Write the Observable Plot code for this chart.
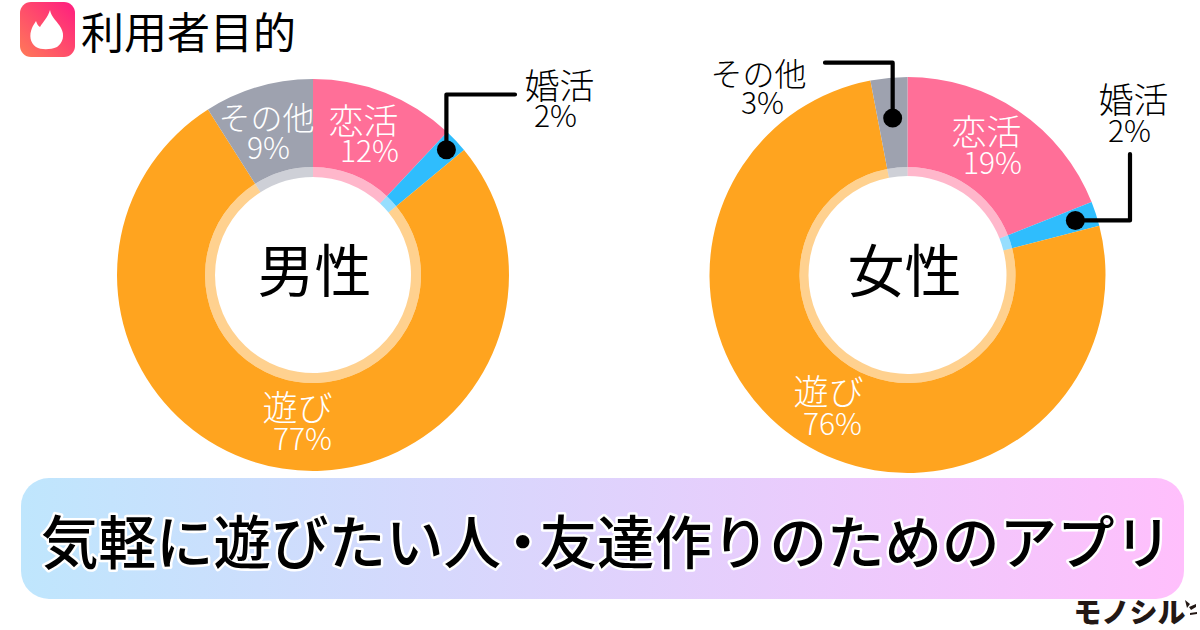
<!DOCTYPE html>
<html lang="ja">
<head>
<meta charset="utf-8">
<style>html,body{margin:0;padding:0;background:#fff}svg{display:block}</style>
<script src="https://cdn.jsdelivr.net/npm/d3@7"></script>
<script src="https://cdn.jsdelivr.net/npm/@observablehq/plot@0.6"></script>
</head>
<body>
<div id="chart"></div>
<script>
const categories = ["恋活", "婚活", "遊び", "その他"];
const colors = ["#ff6f98", "#2fbdfd", "#ffa41f", "#9ea2af"];
const maleValues = [12, 2, 77, 9];
const femaleValues = [19, 2, 76, 3];
const titleText = "利用者目的";
const maleName = "男性";
const femaleName = "女性";
const bannerText = "気軽に遊びたい人・友達作りのためのアプリ";
const brandText = "モノシル";

const FONT = "'Noto Sans CJK JP','Noto Sans',sans-serif";
const rows = (vals) => categories.map((category, i) => ({category, value: vals[i]}));

// Donut drawn from Plot's stacked bar positions; x scale maps percent to radians
function donut({cx, cy, outer, mid, inner, callouts}) {
  return function (index, scales, values) {
    const g = d3.create("svg:g").attr("transform", `translate(${cx},${cy})`);
    const arc = d3.arc();
    for (const i of index) {
      const a = {startAngle: values.x1[i], endAngle: values.x2[i]};
      const fill = values.fill ? values.fill[i] : scales.color(categories[i]);
      g.append("path").attr("d", arc({...a, innerRadius: mid, outerRadius: outer})).attr("fill", fill);
      g.append("path").attr("d", arc({...a, innerRadius: inner, outerRadius: mid})).attr("fill", fill).attr("fill-opacity", 0.5);
    }
    for (const c of callouts) {
      const i = index[categories.indexOf(c.category)];
      const t = (values.x1[i] + values.x2[i]) / 2;
      const px = Math.sin(t) * c.r, py = -Math.cos(t) * c.r;
      const pts = [[px, py], ...c.path.map(([x, y]) => [x === null ? px : x - cx, y === null ? py : y - cy])];
      g.append("path").attr("d", d3.line()(pts)).attr("fill", "none").attr("stroke", "#000")
        .attr("stroke-width", 4.2).attr("stroke-linecap", "round").attr("stroke-linejoin", "round");
      g.append("circle").attr("cx", px).attr("cy", py).attr("r", 9.5).attr("fill", "#000");
    }
    return g.node();
  };
}

const ring = (vals, spec) => Plot.barX(rows(vals), Plot.stackX({
  x: "value", fill: "category", order: null, insetLeft: 0, insetRight: 0, render: donut(spec)
}));

const label = (text, x, y, fontSize, fill = "#000", extra = {}) => Plot.text([text], {
  text: d => d, frameAnchor: "top-left", dx: x, dy: y, textAnchor: "middle", lineAnchor: "middle",
  fontSize, fill, fontFamily: FONT, fontWeight: 300, ...extra
});

function decorations() {
  const g = d3.create("svg:g");
  const defs = g.append("defs");
  const b = defs.append("linearGradient").attr("id", "bannerGrad");
  b.append("stop").attr("offset", "0").attr("stop-color", "#bfe6fd");
  b.append("stop").attr("offset", "1").attr("stop-color", "#ffbffc");
  const l = defs.append("linearGradient").attr("id", "logoGrad").attr("x1", 0).attr("y1", 1).attr("x2", 1).attr("y2", 0);
  l.append("stop").attr("offset", "0").attr("stop-color", "#ff7a58");
  l.append("stop").attr("offset", "1").attr("stop-color", "#ff1c80");
  g.append("rect").attr("x", 21).attr("y", 478).attr("width", 1163).attr("height", 121).attr("rx", 28).attr("fill", "url(#bannerGrad)");
  g.append("rect").attr("x", 20).attr("y", 2).attr("width", 55).attr("height", 55).attr("rx", 11).attr("fill", "url(#logoGrad)");
  g.append("path").attr("fill", "#fff")
    .attr("d", "M50 10 C51 17 58 22 61 28 C65 35 63 43 57 47 C50 50 41 50 36 47 C30 43 29 35 32 28 C33 25 35 23 36 21 C37 24 38 26 40 27 C43 22 48 17 50 10Z");
  g.append("path").attr("fill", "#231815")
    .attr("d", "M1185 600 L1190 604 L1187 608Z M1189 607 L1196 604 L1196 607 L1191 610Z M1190 613 L1197 612 L1197 614 L1190 615Z");
  return g.node();
}

const plot = Plot.plot({
  width: 1200, height: 630,
  marginTop: 0, marginRight: 0, marginBottom: 0, marginLeft: 0,
  x: {domain: [0, 100], range: [0, 2 * Math.PI], axis: null},
  y: {axis: null},
  color: {domain: categories, range: colors},
  style: {background: "#fff", fontFamily: FONT},
  marks: [
    decorations,
    ring(maleValues, {cx: 313, cy: 275, outer: 196, mid: 108, inner: 98,
      callouts: [{category: "婚活", r: 183, path: [[null, 94.5], [515, 94.5]]}]}),
    ring(femaleValues, {cx: 907.5, cy: 275, outer: 198, mid: 108, inner: 99,
      callouts: [
        {category: "婚活", r: 176.5, path: [[1130, null], [1130, 154]]},
        {category: "その他", r: 157.6, path: [[null, 62.7], [825, 62.7]]}
      ]}),
    label(titleText, 188, 35, 43, "#000", {fontWeight: 400}),
    label(maleName, 314, 273, 57, "#000", {fontWeight: 400}),
    label(femaleName, 904, 273, 57, "#000", {fontWeight: 400}),
    // male labels
    label(categories[0], 363, 122, 35, "#fff"),
    label(maleValues[0] + "%", 369, 152, 30, "#fff"),
    label(categories[3], 266, 119, 32, "#fff"),
    label(maleValues[3] + "%", 268, 149, 30, "#fff"),
    label(categories[2], 297, 409, 35, "#fff"),
    label(maleValues[2] + "%", 302, 440, 30, "#fff"),
    label(categories[1], 559, 87, 35),
    label(maleValues[1] + "%", 555, 117, 30),
    // female labels
    label(categories[0], 986, 133, 35, "#fff"),
    label(femaleValues[0] + "%", 992, 164, 30, "#fff"),
    label(categories[2], 828, 393, 35, "#fff"),
    label(femaleValues[2] + "%", 832, 425, 30, "#fff"),
    label(categories[3], 758, 75, 32),
    label(femaleValues[3] + "%", 762, 104, 30),
    label(categories[1], 1133, 101, 35),
    label(femaleValues[1] + "%", 1129, 132, 30),
    // banner and brand
    label(bannerText, 606, 545, 57.5, "#000", {stroke: "#fff", strokeWidth: 5, fontWeight: 500}),
    label(brandText, 1129, 614, 28, "#231815", {fontWeight: 900})
  ]
});
// Tighten the narrow middle dot of the banner line
d3.select(plot).selectAll("text")
  .filter(function () { return this.textContent === bannerText; })
  .attr("dx", Array.from(bannerText, (ch, i) => ch === "・" ? -7 : bannerText[i - 1] === "・" ? -12 : 0).join(" "));
document.getElementById("chart").appendChild(plot);
</script>
</body>
</html>
